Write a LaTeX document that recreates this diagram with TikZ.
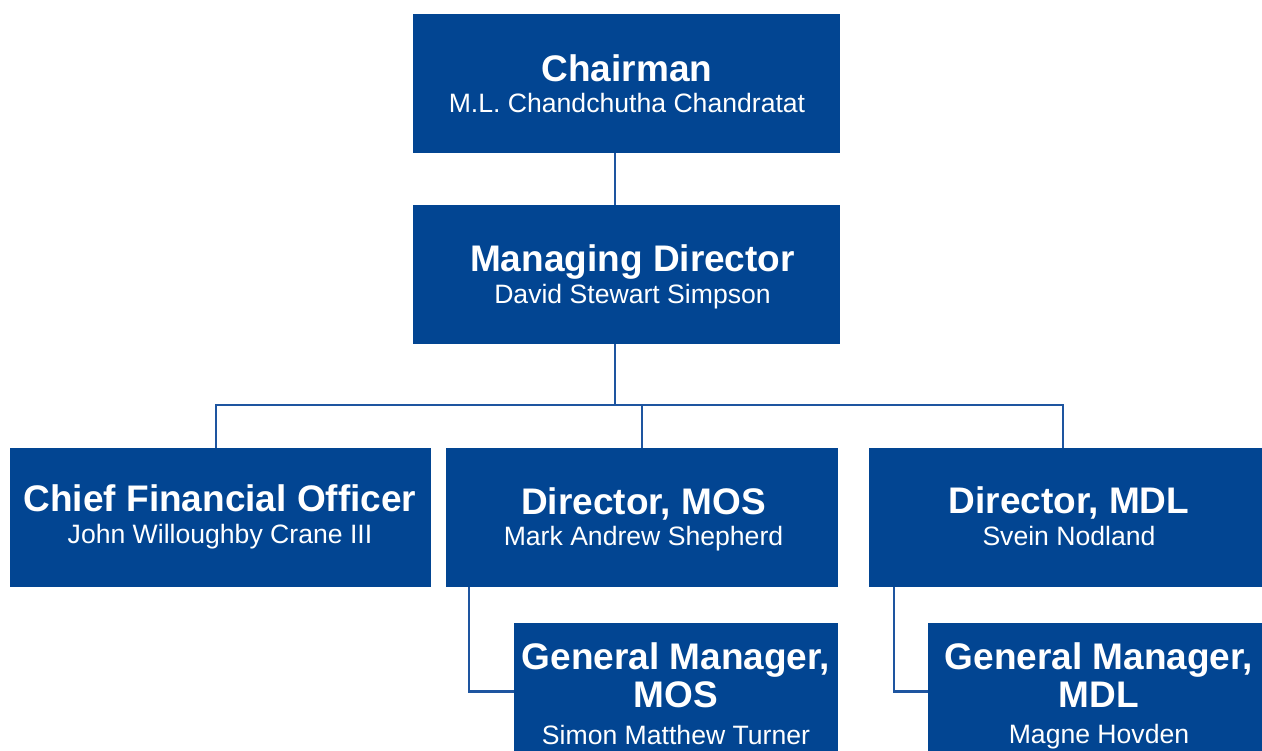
\documentclass[tikz,border=0pt]{standalone}
\usepackage{fontspec}
\setmainfont{Liberation Sans}
\usepackage{tikz}
\usetikzlibrary{calc}

\definecolor{unitblue}{RGB}{2,69,146}
\definecolor{linkblue}{RGB}{30,85,160}

\begin{document}
\begin{tikzpicture}[x=1pt, y=-1pt,
    unit/.style={rectangle, fill=unitblue, inner sep=0pt, minimum height=139pt},
    head/.style={text=white, anchor=base, inner sep=0pt, align=center, font=\fontsize{37}{38}\selectfont\bfseries},
    who/.style={text=white, anchor=base, inner sep=0pt, font=\fontsize{26.6}{30}\selectfont},
    link/.style={draw=linkblue, line width=2.5pt}]
  \useasboundingbox (0,0) rectangle (1262,751);
  \clip (0,0) rectangle (1262,751);

  % boxes
  \node[unit, minimum width=427pt]                      (chair) at (626.5,83.5)  {};
  \node[unit, minimum width=427pt]                      (md)    at (626.5,274.5) {};
  \node[unit, minimum width=421pt]                      (cfo)   at (220.5,517.5) {};
  \node[unit, minimum width=392pt]                      (mos)   at (642,517.5)   {};
  \node[unit, minimum width=393pt]                      (mdl)   at (1065.5,517.5){};
  \node[unit, minimum width=324pt, minimum height=137pt] (gmmos) at (676,691.5)   {};
  \node[unit, minimum width=334pt, minimum height=137pt] (gmmdl) at (1095,691.5)  {};

  % titles and names (base = last line of a title)
  \node[head] (chairT) at (627,82)    {Chairman};
  \node[who]  (chairN) at (627,113)   {M.L. Chandchutha Chandratat};
  \node[head] (mdT)    at (632.5,272) {Managing Director};
  \node[who]  (mdN)    at (632.5,304) {David Stewart Simpson};
  \node[head] (cfoT)   at (220,511)   {Chief Financial Officer};
  \node[who]  (cfoN)   at (220,543)   {John Willoughby Crane III};
  \node[head] (mosT)   at (643.5,514) {Director, MOS};
  \node[who]  (mosN)   at (643.5,545) {Mark Andrew Shepherd};
  \node[head] (mdlT)   at (1069,513.5){Director, MDL};
  \node[who]  (mdlN)   at (1069,545)  {Svein Nodland};
  \node[head] (gmmosT) at (676,707)   {General Manager,\\MOS};
  \node[who]  (gmmosN) at (676,744)   {Simon Matthew Turner};
  \node[head] (gmmdlT) at (1099,707)  {General Manager,\\MDL};
  \node[who]  (gmmdlN) at (1099,743)  {Magne Hovden};

  % connectors
  \coordinate (busM) at (615,405);
  \coordinate (busL) at (216,405);
  \coordinate (busR) at (1063,405);
  \coordinate (elbA) at (469,0);
  \coordinate (elbB) at (894,0);

  \draw[link] (chair.south -| busM) -- (md.north -| busM);
  \draw[link] (md.south -| busM) -- (busM);
  \draw[link] (cfo.north -| busL) -- (busL) -- (busR) -- (mdl.north -| busR);
  \draw[link] (mos.north) -- (mos.north |- busM);
  \draw[link] (mos.south -| elbA) |- (gmmos.west);
  \draw[link] (mdl.south -| elbB) |- (gmmdl.west);
\end{tikzpicture}
\end{document}
